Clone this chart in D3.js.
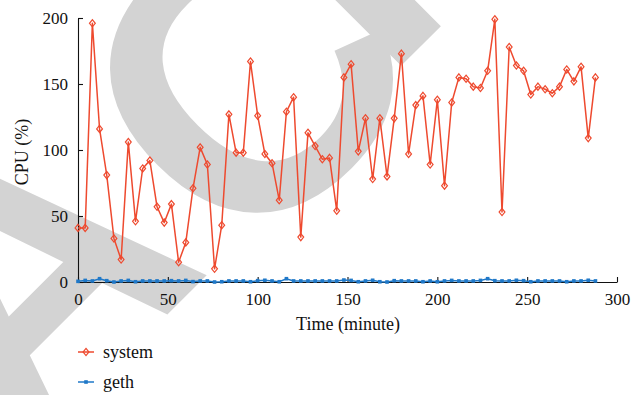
<!DOCTYPE html>
<html><head><meta charset="utf-8">
<script src="https://cdn.jsdelivr.net/npm/d3@7"></script>
<style>body{margin:0;background:#fff}svg{display:block}</style>
</head><body>
<svg id="chart" width="643" height="395"></svg>
<script>
const times = [0,4,8,12,16,20,24,28,32,36,40,44,48,52,56,60,64,68,72,76,80,84,88,92,96,100,104,108,112,116,120,124,128,132,136,140,144,148,152,156,160,164,168,172,176,180,184,188,192,196,200,204,208,212,216,220,224,228,232,236,240,244,248,252,256,260,264,268,272,276,280,284,288];
const systemCPU = [41,41,196,116,81,33,17,106,46,86,92,57,45,59,15,30,71,102,89,10,43,127,98,98,167,126,97,90,62,129,140,34,113,103,93,94,54,155,165,99,124,78,124,80,124,173,97,134,141,89,138,73,136,155,154,148,147,160,199,53,178,164,160,142,148,146,143,148,161,152,163,109,155];
const gethCPU = [0.5,1.2,0.8,2.5,1,0,0.8,1.2,0.2,0.8,0.8,0.8,0.8,1,0.8,1.2,0.3,0.8,0.8,0,0.2,0.8,0.8,0.8,0.2,1,1.3,0.8,0.2,2.5,0.8,0.8,0.8,0.8,0.8,0.8,0.8,1.5,1.2,0.2,0.8,1.3,0.2,0,1,0.8,0.8,0.8,0.2,0.8,0.2,0.8,1.2,0.8,0.8,0.8,1.2,2.5,1,0.8,0.8,1.3,1,0.2,0.8,0.8,0.8,0.8,0.2,0.8,0.8,1.3,0.8];
const xTicks = [0,50,100,150,200,250,300];
const yTicks = [0,50,100,150,200];
const seriesNames = ["system","geth"];
const seriesColors = ["#ee4a2f","#1f78c8"];
const xTitle = "Time (minute)";
const yTitle = "CPU (%)";

const svg = d3.select("#chart");
const serif = "'Liberation Serif','Times New Roman',serif";

// background watermark (rotated letters)
const fs = 390;
const wm = svg.append("g").attr("fill","#d3d3d3")
  .style("font-family","'Liberation Sans',Arial,sans-serif")
  .style("font-weight","bold").style("font-size", fs + "px");
wm.append("text").attr("transform","translate(214,268) rotate(-45)").attr("text-anchor","end").text("A");
wm.append("text").attr("transform","translate(243,74) rotate(-45)").attr("text-anchor","middle").attr("y", 0.358*fs).text("C");
wm.append("text").attr("transform","translate(421,46) rotate(-45)").attr("text-anchor","middle").text("T");

const x = d3.scaleLinear().domain([0,300]).range([78,617]);
const y = d3.scaleLinear().domain([0,200]).range([282,18]);

const xAxis = svg.append("g").attr("transform","translate(0,282)")
  .call(d3.axisBottom(x).tickValues(xTicks).tickSizeInner(-5).tickSizeOuter(0).tickPadding(11));
const yAxis = svg.append("g").attr("transform","translate(78,0)")
  .call(d3.axisLeft(y).tickValues(yTicks).tickSizeInner(-5).tickSizeOuter(0).tickPadding(10));
[xAxis,yAxis].forEach(a=>{
  a.selectAll("path,line").attr("stroke","#111").attr("stroke-width",1.1);
  a.selectAll("text").attr("fill","#111").style("font-family",serif).style("font-size","17px");
});

svg.append("text").attr("x",348).attr("y",330).attr("text-anchor","middle")
  .style("font-family",serif).style("font-size","18px").attr("fill","#111").text(xTitle);
svg.append("text").attr("transform","translate(28,152) rotate(-90)").attr("text-anchor","middle")
  .style("font-family",serif).style("font-size","18px").attr("fill","#111").text(yTitle);

const sysData = times.map((t,i)=>({t, v: systemCPU[i]}));
const gethData = times.map((t,i)=>({t, v: gethCPU[i]}));
const line = d3.line().x(d=>x(d.t)).y(d=>y(d.v));
const diamond = "M0,-3.6L2.9,0L0,3.6L-2.9,0Z";

// system
svg.append("path").datum(sysData).attr("d",line).attr("fill","none")
  .attr("stroke",seriesColors[0]).attr("stroke-width",1.5).attr("stroke-linejoin","round");
svg.append("g").selectAll("path").data(sysData).join("path")
  .attr("transform",d=>`translate(${x(d.t)},${y(d.v)})`).attr("d",diamond)
  .attr("fill","none").attr("stroke",seriesColors[0]).attr("stroke-width",1.2);

// geth
svg.append("path").datum(gethData).attr("d",line).attr("fill","none")
  .attr("stroke",seriesColors[1]).attr("stroke-width",1.5);
svg.append("g").selectAll("rect").data(gethData).join("rect")
  .attr("x",d=>x(d.t)-1.8).attr("y",d=>y(d.v)-1.8).attr("width",3.6).attr("height",3.6)
  .attr("fill",seriesColors[1]);

// legend
const leg = svg.append("g");
seriesNames.forEach((name,i)=>{
  const ly = 352 + i*30;
  leg.append("line").attr("x1",78).attr("x2",94).attr("y1",ly).attr("y2",ly)
    .attr("stroke",seriesColors[i]).attr("stroke-width",1.5);
  if (i===0) {
    leg.append("path").attr("transform",`translate(86,${ly})`).attr("d",diamond)
      .attr("fill","none").attr("stroke",seriesColors[i]).attr("stroke-width",1.2);
  } else {
    leg.append("rect").attr("x",84.2).attr("y",ly-1.8).attr("width",3.6).attr("height",3.6).attr("fill",seriesColors[i]);
  }
  leg.append("text").attr("x",103).attr("y",ly).attr("dy","0.32em")
    .style("font-family",serif).style("font-size","18px").attr("fill","#111").text(name);
});
</script>
</body></html>
